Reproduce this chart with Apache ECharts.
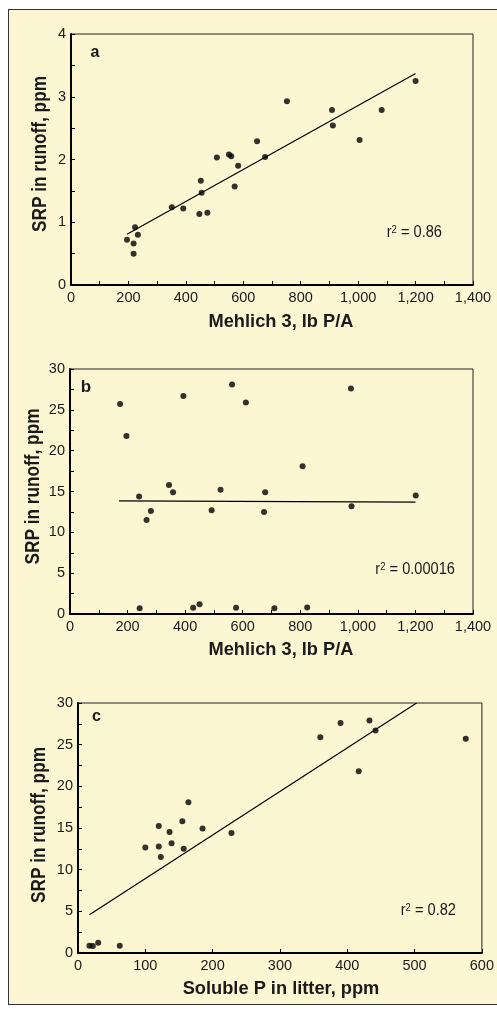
<!DOCTYPE html>
<html>
<head>
<meta charset="utf-8">
<script src="https://cdn.jsdelivr.net/npm/echarts@6/dist/echarts.min.js"></script>
<style>
  html, body { margin: 0; padding: 0; background: #ffffff; }
  body { width: 497px; height: 1013px; position: relative; overflow: hidden; }
  #frame { position: absolute; left: 8px; top: 9px; width: 492px; height: 996px;
           background: #fdf6d3; border: 1px solid #333; box-sizing: border-box; }
  #chart { position: absolute; left: 0; top: 0; width: 497px; height: 1013px; }
</style>
</head>
<body>
<div id="frame"></div>
<div id="chart"></div>
<script>
// ---- Panel a: SRP vs Mehlich 3 ----
const aMehlich = [195, 218, 218, 223, 233, 351, 391, 447, 452, 455, 475, 508, 550, 558, 570, 582, 648, 676, 752, 909, 912, 1005, 1082, 1200];
const aSRP     = [0.72, 0.66, 0.50, 0.92, 0.80, 1.24, 1.22, 1.13, 1.66, 1.47, 1.15, 2.03, 2.08, 2.05, 1.57, 1.90, 2.29, 2.04, 2.93, 2.79, 2.54, 2.31, 2.79, 3.25];
const aFitX = [195, 1200];
const aFitY = [0.81, 3.37];
const aR2 = '0.86';

// ---- Panel b: SRP vs Mehlich 3 ----
const bMehlich = [174, 196, 240, 242, 266, 281, 344, 358, 394, 428, 450, 492, 523, 563, 577, 611, 674, 678, 710, 808, 824, 976, 978, 1201];
const bSRP     = [25.7, 21.8, 14.4, 0.7, 11.5, 12.6, 15.8, 14.9, 26.7, 0.77, 1.2, 12.7, 15.2, 28.1, 0.77, 25.9, 12.5, 14.9, 0.7, 18.1, 0.8, 27.6, 13.2, 14.5];
const bFitX = [170, 1200];
const bFitY = [13.85, 13.7];
const bR2 = '0.00016';

// ---- Panel c: SRP vs soluble P in litter ----
const cSolubleP = [17, 22, 30, 62, 100, 120, 120, 123, 136, 139, 155, 157, 164, 185, 228, 360, 390, 417, 433, 442, 576];
const cSRP      = [0.87, 0.84, 1.23, 0.87, 12.66, 15.25, 12.78, 11.53, 14.53, 13.17, 15.8, 12.5, 18.1, 14.93, 14.4, 25.9, 27.6, 21.8, 27.9, 26.7, 25.7];
const cFitX = [17, 503];
const cFitY = [4.6, 30];
const cR2 = '0.82';

const xTitleMehlich = 'Mehlich 3, lb P/A';
const xTitleSoluble = 'Soluble P in litter, ppm';
const yTitle = 'SRP in runoff, ppm';

const zip = (xs, ys) => xs.map((x, i) => [x, ys[i]]);
const comma = v => String(v).replace(/\B(?=(\d{3})+(?!\d))/g, ',');

const FONT = '"Liberation Sans", Arial, sans-serif';
const INK = '#1a1a1a';

function xAxis(grid, max, interval, labelEvery) {
  return {
    type: 'value', gridIndex: grid, min: 0, max: max, interval: interval,
    axisLine: { show: true, onZero: false, lineStyle: { color: '#000', width: 2 } },
    axisTick: { show: true, inside: true, length: 4, lineStyle: { color: '#000', width: 1 } },
    axisLabel: { show: true, margin: 5, color: INK, fontFamily: FONT, fontSize: 14.5,
      showMinLabel: true, showMaxLabel: true, hideOverlap: false,
      formatter: v => (Math.round(v) % labelEvery === 0 ? comma(Math.round(v)) : '') },
    splitLine: { show: false }
  };
}
function yAxis(grid, max, interval, labelEvery) {
  return {
    type: 'value', gridIndex: grid, min: 0, max: max, interval: interval,
    axisLine: { show: true, onZero: false, lineStyle: { color: '#000', width: 2 } },
    axisTick: { show: true, inside: true, length: 4, lineStyle: { color: '#000', width: 1 } },
    axisLabel: { show: true, margin: 5, color: INK, fontFamily: FONT, fontSize: 14.5,
      showMinLabel: true, showMaxLabel: true, hideOverlap: false,
      formatter: v => (Math.abs(v / labelEvery - Math.round(v / labelEvery)) < 1e-6 ? String(Math.round(v)) : '') },
    splitLine: { show: false }
  };
}
function scatter(i, data) {
  return { type: 'scatter', xAxisIndex: i, yAxisIndex: i, data: data, symbol: 'circle', symbolSize: 6,
    itemStyle: { color: '#000' }, silent: true };
}
function fit(i, xs, ys) {
  return { type: 'line', xAxisIndex: i, yAxisIndex: i, data: zip(xs, ys), showSymbol: false, symbol: 'none',
    lineStyle: { color: '#000', width: 1.2 }, silent: true };
}
function txt(x, y, text, opts) {
  const el = { type: 'text', x: x, y: y, silent: true,
    style: Object.assign({ text: text, fill: INK, align: 'center', verticalAlign: 'middle' }, opts.style || {}) };
  if (opts.rotation) el.rotation = opts.rotation;
  if (opts.scaleX) el.scaleX = opts.scaleX;
  return el;
}
function r2(x, y, val) {
  return { type: 'text', x: x, y: y, silent: true, scaleX: 0.86,
    style: { text: '{n|r}{s|2}{n| = ' + val + '}', align: 'right', verticalAlign: 'middle', fill: INK,
      rich: { n: { fontFamily: FONT, fontSize: 17, lineHeight: 17, fill: INK },
              s: { fontFamily: FONT, fontSize: 11, lineHeight: 11, fill: INK, verticalAlign: 'top' } } } };
}

const chart = echarts.init(document.getElementById('chart'), null, { renderer: 'canvas' });
const gridStyle = { show: true, borderColor: '#222', borderWidth: 1, backgroundColor: 'transparent', containLabel: false };
const bold = (size) => ({ fontFamily: FONT, fontWeight: 'bold', fontSize: size });
chart.setOption({
  animation: false,
  backgroundColor: 'transparent',
  grid: [
    Object.assign({ left: 71, top: 34, width: 402, height: 251 }, gridStyle),
    Object.assign({ left: 70, top: 369, width: 403, height: 245 }, gridStyle),
    Object.assign({ left: 78, top: 703, width: 406, height: 250 }, gridStyle)
  ],
  xAxis: [ xAxis(0, 1400, 100, 200), xAxis(1, 1400, 100, 200), xAxis(2, 600, 100, 100) ],
  yAxis: [ yAxis(0, 4, 0.5, 1), yAxis(1, 30, 2.5, 5), yAxis(2, 30, 2.5, 5) ],
  series: [
    fit(0, aFitX, aFitY), scatter(0, zip(aMehlich, aSRP)),
    fit(1, bFitX, bFitY), scatter(1, zip(bMehlich, bSRP)),
    fit(2, cFitX, cFitY), scatter(2, zip(cSolubleP, cSRP))
  ],
  graphic: [
    // panel letters
    txt(95, 53, 'a', { style: bold(16) }),
    txt(86, 387.5, 'b', { style: bold(17) }),
    txt(96.5, 716.5, 'c', { style: bold(16) }),
    // x titles
    txt(281, 321.5, xTitleMehlich, { style: bold(19), scaleX: 0.96 }),
    txt(281, 650, xTitleMehlich, { style: bold(19), scaleX: 0.96 }),
    txt(281, 989, xTitleSoluble, { style: bold(19), scaleX: 0.96 }),
    // y titles (condensed along the text direction)
    txt(40.5, 154, yTitle, { rotation: Math.PI / 2, scaleX: 0.82, style: bold(21) }),
    txt(33, 486.5, yTitle, { rotation: Math.PI / 2, scaleX: 0.82, style: bold(21) }),
    txt(39.5, 825, yTitle, { rotation: Math.PI / 2, scaleX: 0.82, style: bold(21) }),
    // r squared
    r2(442, 232.5, aR2),
    r2(455, 569.5, bR2),
    r2(456, 910.5, cR2)
  ]
});
</script>
</body>
</html>
